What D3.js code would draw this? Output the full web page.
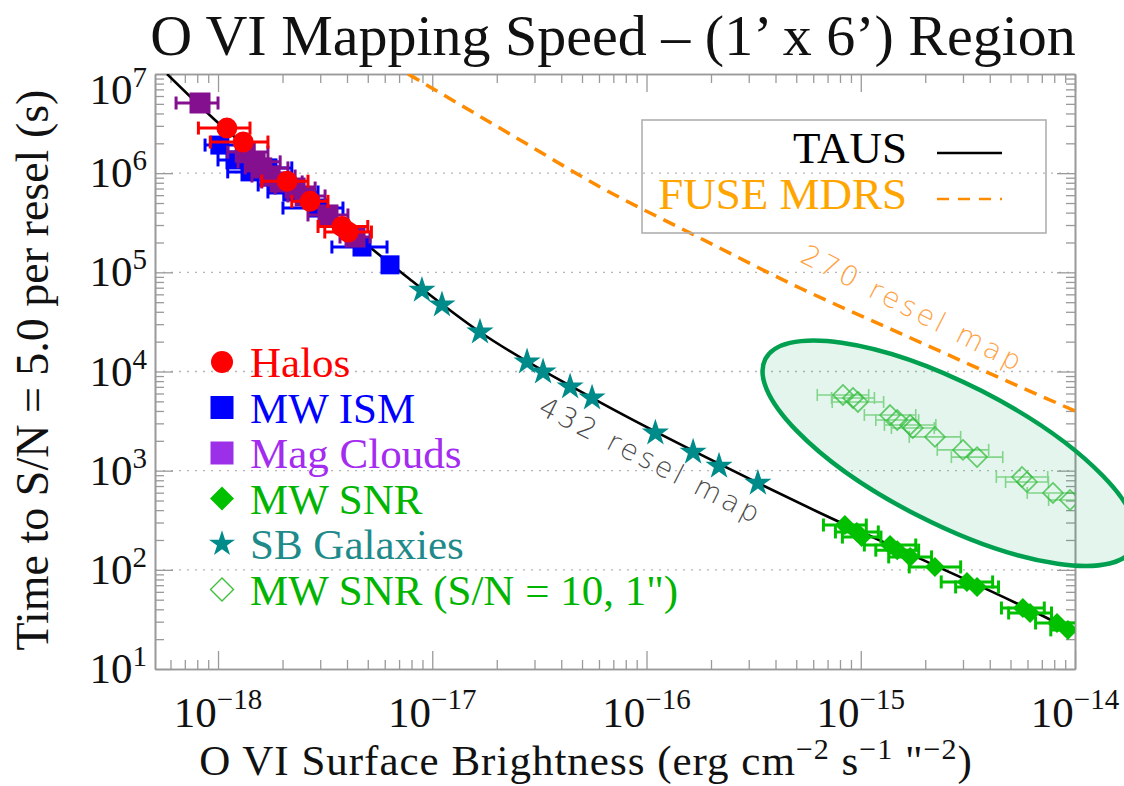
<!DOCTYPE html>
<html><head><meta charset="utf-8">
<script src="https://cdn.jsdelivr.net/npm/d3@7"></script>
<style>body{margin:0;background:#fff}svg{display:block}</style>
</head><body>
<svg id="chart" width="1124" height="786"></svg>
<script>
// ---------------- DATA ----------------
const xTickExponents = [-18, -17, -16, -15, -14];
const yTickExponents = [1, 2, 3, 4, 5, 6, 7];
const gridExponents = [2, 3, 4, 5, 6];

const halosX  = [1.10e-18, 1.31e-18, 2.10e-18, 2.69e-18, 3.79e-18, 4.05e-18];
const halosY  = [2.85e6, 2.06e6, 8.3e5, 5.2e5, 2.9e5, 2.55e5];
const halosLo = [8.1e-19, 9.2e-19, 1.60e-18, 2.21e-18, 2.93e-18, 3.15e-18];
const halosHi = [1.41e-18, 1.71e-18, 2.63e-18, 3.26e-18, 5.0e-18, 5.2e-18];

const ismX  = [1.02e-18, 1.20e-18, 1.41e-18, 1.71e-18, 1.91e-18, 2.21e-18, 2.93e-18, 4.70e-18, 6.35e-18];
const ismY  = [1.92e6, 1.36e6, 1.03e6, 1.13e6, 7.6e5, 6.46e5, 4.45e5, 1.80e5, 1.19e5];
const ismLo = [8.70e-19, 1.00e-18, 1.11e-18, 1.38e-18, 1.54e-18, 1.71e-18, 2.01e-18, 3.40e-18, 6.35e-18];
const ismHi = [1.34e-18, 1.60e-18, 1.91e-18, 2.21e-18, 2.41e-18, 2.93e-18, 3.83e-18, 6.15e-18, 6.35e-18];

const magX  = [8.24e-19, 1.34e-18, 1.49e-18, 1.60e-18, 1.75e-18, 1.95e-18, 2.29e-18, 2.55e-18, 3.26e-18, 4.36e-18];
const magY  = [5.10e6, 1.63e6, 1.30e6, 1.13e6, 9.36e5, 8.15e5, 7.08e5, 5.89e5, 3.79e5, 2.27e5];
const magLo = [6.37e-19, 1.11e-18, 1.24e-18, 1.34e-18, 1.44e-18, 1.60e-18, 1.85e-18, 2.12e-18, 2.63e-18, 3.71e-18];
const magHi = [1.00e-18, 1.71e-18, 1.95e-18, 2.12e-18, 2.29e-18, 2.47e-18, 2.84e-18, 3.16e-18, 4.04e-18, 5.12e-18];

const sbgX = [8.95e-18, 1.11e-17, 1.67e-17, 2.77e-17, 3.29e-17, 4.40e-17, 5.57e-17, 1.10e-16, 1.65e-16, 2.18e-16, 3.31e-16];
const sbgY = [6.6e4, 4.7e4, 2.5e4, 1.25e4, 9.9e3, 7.0e3, 5.4e3, 2.4e3, 1.54e3, 1.11e3, 750];

const snrX   = [8.43e-16, 9.59e-16, 1.01e-15, 1.37e-15, 1.48e-15, 1.70e-15, 2.22e-15, 3.13e-15, 3.49e-15, 5.71e-15, 6.17e-15, 8.24e-15, 9.27e-15];
const snrY   = [283, 241, 214, 178, 158, 135, 107, 75.5, 67.2, 41.2, 36.7, 29.1, 24.8];
const snrErr = [0.10, 0.10, 0.09, 0.12, 0.10, 0.10, 0.12, 0.12, 0.10, 0.10, 0.10, 0.10, 0.08]; // dex

const snr10X   = [8.26e-16, 9.20e-16, 9.70e-16, 1.37e-15, 1.48e-15, 1.70e-15, 1.75e-15, 2.22e-15, 3.00e-15, 3.49e-15, 5.66e-15, 5.97e-15, 7.89e-15, 9.48e-15];
const snr10Y   = [5800, 5410, 4930, 3640, 3240, 2890, 2690, 2190, 1620, 1370, 863, 769, 596, 506];
const snr10Err = [0.12, 0.10, 0.12, 0.12, 0.10, 0.12, 0.10, 0.12, 0.12, 0.12, 0.12, 0.10, 0.12, 0.10]; // dex

const tausX = [5.78e-19, 9.68e-19, 2.42e-18, 7.62e-18, 1.67e-17, 5.57e-17, 3.31e-16, 6.46e-16, 2.10e-15, 7.40e-15, 1.0e-14];
const tausY = [1.0e7, 3.44e6, 6.8e5, 8.98e4, 2.50e4, 5.41e3, 751, 374, 117, 32.7, 23.6];

const fuseX = [7.71e-18, 1.09e-17, 2.57e-17, 6.07e-17, 1.60e-16, 5.20e-16, 1.52e-15, 4.47e-15, 1.0e-14];
const fuseY = [1.0e7, 6.43e6, 2.16e6, 7.26e5, 2.49e5, 6.95e4, 2.44e4, 8.6e3, 4.0e3];

const legendLabels = ["Halos", "MW ISM", "Mag Clouds", "MW SNR", "SB Galaxies", "MW SNR (S/N = 10, 1\")"];
const lineLegendLabels = ["TAUS", "FUSE MDRS"];

// annotation anchors (data coordinates)
const label432 = {x: 1.05e-16, y: 1.26e3, text: "432 resel map"};
const label270 = {x: 1.75e-15, y: 4.3e4, text: "270 resel map"};
const ellipseCenter = {x: 2.6e-15, y: 1.5e3};

// ---------------- STYLE ----------------
const serif = '"Liberation Serif","Times New Roman",Times,serif';
const thin = '"DejaVu Sans",sans-serif';
const C = {
  halos: "#FF0000", ism: "#0000FF", mag: "#84108F", magLeg: "#9B30E8", magText: "#A32CF0",
  snr: "#00C000", snrText: "#00B400", sbg: "#008B8B", sbgText: "#1F8A8A",
  snr10: "#3CC03C", fuse: "#FF8C00", fuseText: "#FFA500", label270: "#FFA040", axis: "#9a9a9a"
};

const W = 1124, H = 786;
const M = {left: 155, right: 1075, top: 74, bottom: 669};
const x = d3.scaleLog().domain([5.08e-19, 1e-14]).range([M.left, M.right]);
const y = d3.scaleLog().domain([10, 1e7]).range([M.bottom, M.top]);

const svg = d3.select("#chart");
svg.append("defs").append("clipPath").attr("id", "plotClip")
  .append("rect").attr("x", M.left).attr("y", M.top)
  .attr("width", M.right - M.left).attr("height", M.bottom - M.top);

// gridlines
svg.append("g").selectAll("line").data(gridExponents).join("line")
  .attr("x1", M.left).attr("x2", M.right)
  .attr("y1", d => y(Math.pow(10, d))).attr("y2", d => y(Math.pow(10, d)))
  .attr("stroke", "#b5b5b5").attr("stroke-width", 1.4).attr("stroke-dasharray", "2,6");

// axes ticks
function minorTicks(scale) {
  const [a, b] = scale.domain(), out = [];
  for (let e = Math.floor(Math.log10(a)); e <= Math.ceil(Math.log10(b)); e++)
    for (let m = 2; m <= 9; m++) { const v = m * Math.pow(10, e); if (v >= a && v <= b) out.push(v); }
  return out;
}
const xMajor = xTickExponents.map(e => Math.pow(10, e));
const yMajor = yTickExponents.map(e => Math.pow(10, e));
function styleAxis(g) {
  g.select(".domain").attr("stroke", C.axis).attr("stroke-width", 1.6);
  g.selectAll(".tick line").attr("stroke", C.axis).attr("stroke-width", 1.3);
  g.selectAll(".tick text").remove();
}
const axes = [
  [d3.axisLeft(y), `translate(${M.left},0)`, yMajor, minorTicks(y)],
  [d3.axisRight(y), `translate(${M.right},0)`, yMajor, minorTicks(y)],
  [d3.axisBottom(x), `translate(0,${M.bottom})`, xMajor, minorTicks(x)],
  [d3.axisTop(x), `translate(0,${M.top})`, xMajor, minorTicks(x)]
];
axes.forEach(([gen, tr, maj, min]) => {
  svg.append("g").attr("transform", tr)
    .call(gen.tickValues(min).tickSize(-9).tickSizeOuter(0).tickFormat(() => "")).call(styleAxis);
  svg.append("g").attr("transform", tr)
    .call(gen.tickValues(maj).tickSize(-18).tickSizeOuter(0).tickFormat(() => "")).call(styleAxis);
});

// tick labels
const yl = svg.append("g").attr("font-family", serif).attr("fill", "#111");
yTickExponents.forEach(e => {
  const py = Math.max(y(Math.pow(10, e)), M.top + 16) + 14;
  const t = yl.append("text").attr("x", 147).attr("y", py).attr("text-anchor", "end");
  t.append("tspan").attr("font-size", 43).text("10");
  t.append("tspan").attr("font-size", 29).attr("dy", -17).text(e);
});
const xl = svg.append("g").attr("font-family", serif).attr("fill", "#111");
xTickExponents.forEach(e => {
  const t = xl.append("text").attr("x", x(Math.pow(10, e))).attr("y", 727).attr("text-anchor", "middle");
  t.append("tspan").attr("font-size", 43).text("10");
  t.append("tspan").attr("font-size", 29).attr("dy", -18).text("\u2212" + Math.abs(e));
});

// titles
svg.append("text").attr("x", 613).attr("y", 55).attr("text-anchor", "middle")
  .attr("font-family", serif).attr("font-size", 58).attr("fill", "#111")
  .text("O VI Mapping Speed \u2013 (1\u2019 x 6\u2019) Region");
svg.append("text").attr("transform", "translate(48,370) rotate(-90)").attr("text-anchor", "middle")
  .attr("font-family", serif).attr("font-size", 46).attr("fill", "#111")
  .text("Time to S/N = 5.0 per resel (s)");
const xt = svg.append("text").attr("x", 586).attr("y", 775).attr("text-anchor", "middle")
  .attr("font-family", serif).attr("font-size", 43).attr("letter-spacing", 1).attr("fill", "#111");
xt.append("tspan").text("O VI Surface Brightness (erg cm");
xt.append("tspan").attr("font-size", 30).attr("dy", -16).text("\u22122");
xt.append("tspan").attr("dy", 16).text(" s");
xt.append("tspan").attr("font-size", 30).attr("dy", -16).text("\u22121");
xt.append("tspan").attr("dy", 16).text(" \"");
xt.append("tspan").attr("font-size", 30).attr("dy", -16).text("\u22122");
xt.append("tspan").attr("dy", 16).text(")");

// plot content
const plot = svg.append("g").attr("clip-path", "url(#plotClip)");
const line = d3.line().x(d => x(d[0])).y(d => y(d[1])).curve(d3.curveMonotoneX);
plot.append("path").datum(d3.zip(tausX, tausY)).attr("d", line)
  .attr("fill", "none").attr("stroke", "#000").attr("stroke-width", 2.6);
plot.append("path").datum(d3.zip(fuseX, fuseY)).attr("d", line)
  .attr("fill", "none").attr("stroke", C.fuse).attr("stroke-width", 3.5).attr("stroke-dasharray", "13,8");

// ellipse annotation
const ecx = x(ellipseCenter.x), ecy = y(ellipseCenter.y);
svg.append("ellipse").attr("cx", 0).attr("cy", 0).attr("rx", 207).attr("ry", 70)
  .attr("transform", `translate(${ecx},${ecy}) rotate(27)`)
  .attr("fill", "rgba(0,165,80,0.11)").attr("stroke", "#00A050").attr("stroke-width", 4.5);

// error bars helper
function errorBars(g, xs, ys, lo, hi, color, width, cap, opacity) {
  const d = xs.map((v, i) => ({x: v, y: ys[i], lo: lo[i], hi: hi[i]})).filter(p => p.hi > p.lo);
  const eg = g.append("g").attr("stroke", color).attr("stroke-width", width).attr("opacity", opacity || 1);
  eg.selectAll(".h").data(d).join("line").attr("x1", p => x(p.lo)).attr("x2", p => x(p.hi))
    .attr("y1", p => y(p.y)).attr("y2", p => y(p.y));
  eg.selectAll(".l").data(d).join("line").attr("x1", p => x(p.lo)).attr("x2", p => x(p.lo))
    .attr("y1", p => y(p.y) - cap / 2).attr("y2", p => y(p.y) + cap / 2);
  eg.selectAll(".r").data(d).join("line").attr("x1", p => x(p.hi)).attr("x2", p => x(p.hi))
    .attr("y1", p => y(p.y) - cap / 2).attr("y2", p => y(p.y) + cap / 2);
}
const diamond = h => `M0,${-h}L${h},0L0,${h}L${-h},0Z`;

// MW SNR S/N=10 (open diamonds)
errorBars(plot, snr10X, snr10Y, snr10X.map((v, i) => v / Math.pow(10, snr10Err[i])),
  snr10X.map((v, i) => v * Math.pow(10, snr10Err[i])), C.snr10, 1.6, 12, 0.55);
plot.append("g").selectAll("path").data(d3.zip(snr10X, snr10Y)).join("path")
  .attr("transform", d => `translate(${x(d[0])},${y(d[1])})`).attr("d", diamond(10))
  .attr("fill", "none").attr("stroke", C.snr10).attr("stroke-width", 1.7).attr("opacity", 0.75);

// MW ISM / Mag clouds / Halos
errorBars(plot, ismX, ismY, ismLo, ismHi, C.ism, 3, 13);
plot.append("g").selectAll("rect").data(d3.zip(ismX, ismY)).join("rect")
  .attr("x", d => x(d[0]) - 9.5).attr("y", d => y(d[1]) - 9.5).attr("width", 19).attr("height", 19)
  .attr("fill", C.ism);
errorBars(plot, magX, magY, magLo, magHi, C.mag, 3, 13);
plot.append("g").selectAll("rect").data(d3.zip(magX, magY)).join("rect")
  .attr("x", d => x(d[0]) - 10.5).attr("y", d => y(d[1]) - 10.5).attr("width", 21).attr("height", 21)
  .attr("fill", C.mag);
errorBars(plot, halosX, halosY, halosLo, halosHi, C.halos, 3, 13);
plot.append("g").selectAll("circle").data(d3.zip(halosX, halosY)).join("circle")
  .attr("cx", d => x(d[0])).attr("cy", d => y(d[1])).attr("r", 10.5).attr("fill", C.halos);

// MW SNR filled diamonds
errorBars(plot, snrX, snrY, snrX.map((v, i) => v / Math.pow(10, snrErr[i])),
  snrX.map((v, i) => v * Math.pow(10, snrErr[i])), C.snr, 3, 13);
plot.append("g").selectAll("path").data(d3.zip(snrX, snrY)).join("path")
  .attr("transform", d => `translate(${x(d[0])},${y(d[1])})`).attr("d", diamond(10))
  .attr("fill", C.snr);

// SB galaxies stars
plot.append("g").selectAll("path").data(d3.zip(sbgX, sbgY)).join("path")
  .attr("transform", d => `translate(${x(d[0])},${y(d[1])})`)
  .attr("d", d3.symbol(d3.symbolStar, 230)()).attr("fill", C.sbg);

// resel labels
[[label432, "#4a4a4a"], [label270, C.label270]].forEach(([L, col]) => {
  svg.append("text").attr("transform", `translate(${x(L.x)},${y(L.y)}) rotate(27)`)
    .attr("text-anchor", "middle").attr("dominant-baseline", "central")
    .attr("font-family", thin).attr("font-weight", 200).attr("font-size", 28)
    .attr("letter-spacing", 3.5).attr("fill", col).text(L.text);
});

// line legend
svg.append("rect").attr("x", 642).attr("y", 120).attr("width", 404).attr("height", 113)
  .attr("fill", "none").attr("stroke", "#b0b0b0").attr("stroke-width", 1.6);
const ll = svg.append("g");
lineLegendLabels.forEach((lab, i) => {
  const cy = 153 + i * 46;
  ll.append("text").attr("x", 907).attr("y", cy + 10).attr("text-anchor", "end")
    .attr("font-family", serif).attr("font-size", 45).attr("fill", i === 0 ? "#000" : C.fuseText).text(lab);
  ll.append("line").attr("x1", 937).attr("x2", 1002).attr("y1", cy).attr("y2", cy)
    .attr("stroke", i === 0 ? "#000" : C.fuse).attr("stroke-width", 2.6)
    .attr("stroke-dasharray", i === 0 ? null : "12,9");
});

// marker legend
const lg = svg.append("g");
const legMarkers = [
  g => g.append("circle").attr("r", 11).attr("fill", C.halos),
  g => g.append("rect").attr("x", -11.5).attr("y", -11.5).attr("width", 23).attr("height", 23).attr("fill", C.ism),
  g => g.append("rect").attr("x", -11.5).attr("y", -11.5).attr("width", 23).attr("height", 23).attr("fill", C.magLeg),
  g => g.append("path").attr("d", diamond(12)).attr("fill", C.snr),
  g => g.append("path").attr("d", d3.symbol(d3.symbolStar, 210)()).attr("fill", C.sbg),
  g => g.append("path").attr("d", diamond(11.5)).attr("fill", "none").attr("stroke", C.snr10).attr("stroke-width", 1.4)
];
const legColors = [C.halos, C.ism, C.magText, C.snrText, C.sbgText, C.snrText];
legendLabels.forEach((lab, i) => {
  const cy = 362 + i * 45.5;
  legMarkers[i](lg.append("g").attr("transform", `translate(222,${cy})`));
  lg.append("text").attr("x", 250).attr("y", cy + 15).attr("font-family", serif)
    .attr("font-size", 43).attr("fill", legColors[i]).text(lab);
});
</script>
</body></html>
